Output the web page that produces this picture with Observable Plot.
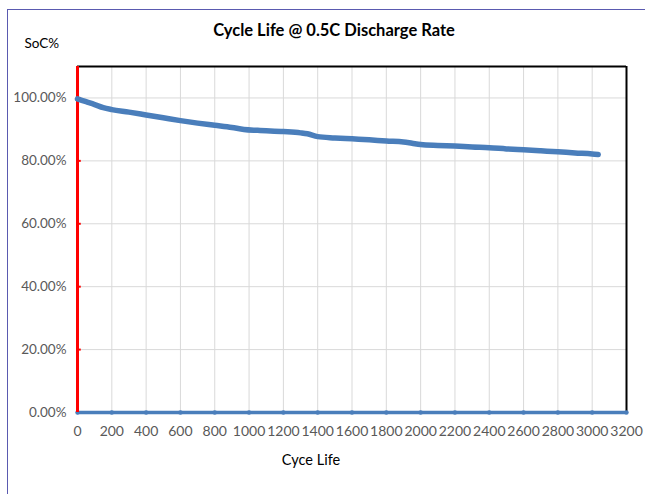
<!DOCTYPE html>
<html>
<head>
<meta charset="utf-8">
<script src="https://cdn.jsdelivr.net/npm/d3@7"></script>
<script src="https://cdn.jsdelivr.net/npm/@observablehq/plot@0.6"></script>
<style>
  html, body { margin: 0; padding: 0; background: #fff; }
  #wrap { position: relative; width: 645px; height: 494px; overflow: hidden; }
  #border { position: absolute; left: 7px; top: 9px; width: 700px; height: 600px;
            border-left: 1.5px solid #5a5ab0; border-top: 1.5px solid #5a5ab0; pointer-events: none; }
  svg { font-family: Lato, "Open Sans", sans-serif; }
</style>
</head>
<body>
<div id="wrap"><div id="border"></div></div>
<script>
const title = "Cycle Life @ 0.5C Discharge Rate";
const yTitle = "SoC%";
const xTitle = "Cyce Life";

const cycles = [0, 50, 100, 150, 200, 300, 400, 500, 600, 700, 800, 900, 970, 1050, 1200, 1300, 1340, 1400, 1500, 1600, 1700, 1800, 1900, 1950, 2000, 2100, 2200, 2300, 2400, 2500, 2600, 2700, 2800, 2900, 3000, 3035];
const soc = [0.997, 0.988, 0.979, 0.969, 0.963, 0.955, 0.946, 0.937, 0.928, 0.920, 0.913, 0.906, 0.900, 0.897, 0.893, 0.889, 0.886, 0.877, 0.873, 0.870, 0.867, 0.863, 0.860, 0.856, 0.852, 0.849, 0.847, 0.844, 0.842, 0.838, 0.835, 0.832, 0.829, 0.825, 0.822, 0.820];

const xTicks = [0, 200, 400, 600, 800, 1000, 1200, 1400, 1600, 1800, 2000, 2200, 2400, 2600, 2800, 3000, 3200];
const yTicks = [0, 0.2, 0.4, 0.6, 0.8, 1.0];
const xMax = 3200, yMax = 1.1;

const data = cycles.map((c, i) => ({cycle: c, soc: soc[i]}));
const labelColor = "#595959";

const chart = Plot.plot({
  width: 645,
  height: 494,
  marginLeft: 77,
  marginRight: 19,
  marginTop: 66,
  marginBottom: 82,
  style: {fontFamily: "Lato, 'Open Sans', sans-serif", background: "transparent", overflow: "visible"},
  x: {domain: [0, xMax], ticks: xTicks},
  y: {domain: [0, yMax], ticks: yTicks},
  marks: [
    Plot.gridX(xTicks, {stroke: "#d9d9d9", strokeOpacity: 1, strokeWidth: 1}),
    Plot.gridY(yTicks, {stroke: "#d9d9d9", strokeOpacity: 1, strokeWidth: 1}),
    Plot.axisX(xTicks, {tickSize: 0, tickPadding: 14, fontSize: 14, fill: labelColor, label: null, tickFormat: d3.format("d")}),
    Plot.axisY(yTicks, {tickSize: 0, tickPadding: 11, fontSize: 13.5, fill: labelColor, label: null, tickFormat: d3.format(".2%")}),
    Plot.ruleY([yMax], {stroke: "#000", strokeWidth: 2}),
    Plot.ruleX([xMax], {stroke: "#000", strokeWidth: 2}),
    Plot.ruleY(yTicks.slice(1), {x1: 0, x2: 22, stroke: "red", strokeWidth: 2}),
    Plot.ruleY([0], {stroke: "#4a7ebb", strokeWidth: 3.5}),
    Plot.dot(xTicks, {x: d => d, y: 0, r: 2.2, fill: "#4a7ebb", stroke: null}),
    Plot.ruleX([0], {stroke: "red", strokeWidth: 3}),
    Plot.line(data, {x: "cycle", y: "soc", stroke: "#4a7ebb", strokeWidth: 5.5, strokeLinecap: "round", strokeLinejoin: "round", curve: "monotone-x"}),
    Plot.text([title], {frameAnchor: "top", dx: -18, dy: -42, fontSize: 16.5, fontWeight: "bold", fill: "#000"}),
    Plot.text([yTitle], {frameAnchor: "top-left", dx: -53, dy: -28, fontSize: 13.5, fill: "#000"}),
    Plot.text([xTitle], {frameAnchor: "bottom", dx: -41, dy: 52, fontSize: 14.5, fill: "#000"})
  ]
});
document.getElementById("wrap").insertBefore(chart, document.getElementById("border"));
</script>
</body>
</html>
